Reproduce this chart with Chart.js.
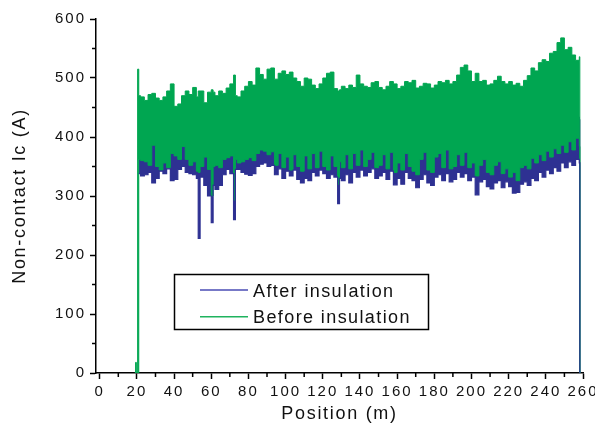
<!DOCTYPE html>
<html>
<head>
<meta charset="utf-8">
<script src="https://cdn.jsdelivr.net/npm/chart.js@4"></script>
<style>
  html, body { margin: 0; padding: 0; background: #fff; }
  canvas { display: block; }
</style>
</head>
<body>
<canvas id="chart" width="595" height="436"></canvas>
<script>
// Position along the tape (m); extra points sit on the narrow dropouts
const positions = [18.9, 19.3, 19.7, 20.4, 21,
  22, 24, 26, 28, 30, 32, 34, 36, 38, 40, 42, 44, 46, 48, 50, 52,
  53,
  54, 56, 58, 60,
  61,
  62, 64, 66, 68, 70, 72,
  73,
  74, 76, 78, 80, 82, 84, 86, 88, 90, 92, 94, 96, 98, 100, 102, 104, 106, 108, 110, 112, 114, 116, 118, 120, 122, 124, 126, 128,
  129,
  130, 132, 134, 136, 138, 140, 142, 144, 146, 148,
  150, 152, 154, 156, 158, 160, 162, 164, 166, 168,
  170, 172, 174, 176, 178, 180, 182, 184, 186, 188,
  190, 192, 194, 196, 198, 200, 202, 204, 206, 208,
  210, 212, 214, 216, 218, 220, 222, 224, 226, 228,
  230, 232, 234, 236, 238, 240, 242, 244, 246, 248,
  250, 252, 254, 256, 258,
  258.3];

// Before insulation: upper and lower edge of the noise band (A)
const beforeTop = [0, 18, 0, 515, 470,
  468, 462, 472, 474, 466, 462, 468, 478, 490, 452, 456, 470, 478, 472, 484, 468,
  478,
  478, 458, 476, 480,
  476,
  470, 478, 474, 483, 490, 505,
  470,
  468, 478, 486, 494, 488, 517, 506, 498, 515, 517, 498, 508, 512, 506, 510, 500, 494, 486, 500, 498, 488, 482, 490, 500, 508, 510, 482, 478,
  480,
  486, 482, 488, 484, 505, 490, 486, 484, 492, 494,
  484, 480, 486, 494, 490, 482, 486, 494, 492, 496,
  483, 486, 491, 490, 483, 488, 494, 492, 496, 490,
  494, 505, 518, 522, 512, 494, 508, 494, 496, 488,
  490, 496, 503, 494, 490, 494, 488, 491, 486, 496,
  504, 517, 512, 526, 531, 528, 542, 545, 560, 568,
  548, 552, 539, 530, 536,
  0];

const beforeBottom = [0, 0, 0, 0, 362,
  360, 358, 352, 386, 350, 344, 356, 348, 372, 368, 362, 384, 362, 352, 358, 342,
  340,
  350, 366, 345, 300,
  350,
  352, 348, 362, 365, 368, 293,
  362,
  356, 358, 362, 365, 360, 372, 378, 376, 370, 375, 352, 372, 348, 366, 344, 370, 350, 342, 368, 346, 372, 348, 376, 350, 344, 368, 350, 320,
  358,
  348, 370, 346, 372, 352, 378, 350, 362, 374, 348,
  352, 370, 346, 374, 340, 356, 344, 372, 350, 342,
  336, 362, 374, 344, 340, 366, 372, 348, 378, 346,
  350, 370, 352, 374, 348, 356, 334, 352, 362, 340,
  336, 352, 358, 338, 346, 332, 340, 326, 348, 352,
  346, 364, 356, 370, 360, 376, 366, 380, 372, 386,
  374, 392, 378, 398, 384,
  0];

// After insulation: lower edge (visible) and upper edge (under the green band)
const afterBottom = [null, null, null, null, 338,
  334, 336, 340, 322, 330, 342, 338, 346, 326, 328, 345, 350, 340, 338, 336, 330,
  228,
  332, 318, 300, 255,
  318,
  311, 318, 336, 345, 338, 260,
  345,
  345, 340, 337, 335, 338, 350, 354, 356, 350, 352, 336, 346, 330, 342, 334, 344, 328, 322, 330, 326, 340, 334, 344, 338, 330, 336, 332, 287,
  330,
  326, 336, 322, 340, 332, 344, 334, 340, 346, 330,
  334, 340, 328, 342, 319, 330, 320, 340, 330, 326,
  314, 328, 336, 322, 318, 332, 336, 326, 338, 324,
  328, 340, 332, 338, 326, 332, 302, 324, 328, 316,
  312, 322, 326, 314, 324, 316, 305, 306, 320, 324,
  318, 330, 326, 340, 332, 344, 338, 348, 342, 356,
  348, 358, 352, 362, 356,
  0];

const afterTop = [null, null, null, null, 400,
  400, 405, 398, 410, 402, 396, 404, 400, 408, 400, 398, 412, 404, 400, 406, 398,
  396,
  402, 404, 398, 400,
  402,
  398, 402, 406, 410, 404, 400,
  404,
  404, 408, 410, 412, 406, 415, 418, 414, 412, 416, 408, 410, 406, 404, 402, 406, 400, 398, 402, 404, 406, 400, 408, 404, 402, 406, 400, 398,
  402,
  400, 404, 398, 406, 402, 410, 404, 400, 406, 402,
  398, 404, 400, 408, 396, 394, 400, 404, 398, 392,
  390, 400, 406, 394, 392, 402, 408, 400, 410, 396,
  400, 406, 402, 408, 400, 394, 386, 392, 398, 390,
  388, 392, 396, 390, 386, 384, 380, 378, 386, 394,
  400, 402, 406, 408, 412, 410, 416, 418, 422, 426,
  424, 428, 426, 434, 430,
  0];

const xTicks = [0, 20, 40, 60, 80, 100, 120, 140, 160, 180, 200, 220, 240, 260];
const xMinorTicks = [10, 30, 50, 70, 90, 110, 130, 150, 170, 190, 210, 230, 250];
const yTicks = [0, 100, 200, 300, 400, 500, 600];
const yMinorTicks = [50, 150, 250, 350, 450, 550];

const xTitle = 'Position (m)';
const yTitle = 'Non-contact Ic (A)';
const afterLabel = 'After insulation';
const beforeLabel = 'Before insulation';

const GREEN = '#00a651';
const BLUE = '#2e3192';
const FONT = '"Liberation Sans", Arial, sans-serif';

function points(values) {
  return positions.map((x, i) => ({ x: x, y: values[i] }));
}

// Origin-like extras: letter spacing, minor ticks, axis titles, boxed legend
const originLook = {
  id: 'originLook',
  beforeLayout(chart) { chart.ctx.letterSpacing = '2px'; },
  beforeDraw(chart) { chart.ctx.letterSpacing = '2px'; },
  afterDraw(chart) {
    const ctx = chart.ctx;
    const xs = chart.scales.x;
    const ys = chart.scales.y;
    const area = chart.chartArea;

    ctx.save();
    ctx.strokeStyle = '#000';
    ctx.lineWidth = 1.5;
    ctx.beginPath();
    xMinorTicks.forEach(v => {
      const px = xs.getPixelForValue(v);
      ctx.moveTo(px, area.bottom);
      ctx.lineTo(px, area.bottom + 4);
    });
    yMinorTicks.forEach(v => {
      const py = ys.getPixelForValue(v);
      ctx.moveTo(area.left, py);
      ctx.lineTo(area.left - 4, py);
    });
    ctx.stroke();

    // axis titles
    ctx.fillStyle = '#111';
    ctx.font = '18px ' + FONT;
    ctx.letterSpacing = '1.7px';
    ctx.textAlign = 'center';
    ctx.textBaseline = 'alphabetic';
    ctx.fillText(xTitle, (area.left + area.right) / 2, 419);
    ctx.translate(25, (area.top + area.bottom) / 2);
    ctx.rotate(-Math.PI / 2);
    ctx.fillText(yTitle, 0, 0);
    ctx.restore();

    // legend box
    ctx.save();
    ctx.fillStyle = '#fff';
    ctx.fillRect(174.5, 274.5, 254, 55);
    ctx.strokeStyle = '#000';
    ctx.lineWidth = 1.5;
    ctx.strokeRect(174.5, 274.5, 254, 55);
    const items = [
      { label: afterLabel, color: '#4a4db5' },
      { label: beforeLabel, color: '#1fb35e' }
    ];
    items.forEach((item, i) => {
      const ly = 290 + i * 26.7;
      ctx.strokeStyle = item.color;
      ctx.lineWidth = 1.5;
      ctx.beginPath();
      ctx.moveTo(200, ly);
      ctx.lineTo(248, ly);
      ctx.stroke();
      ctx.fillStyle = '#111';
      ctx.font = '18px ' + FONT;
      ctx.letterSpacing = '1.4px';
      ctx.textAlign = 'left';
      ctx.textBaseline = 'alphabetic';
      ctx.fillText(item.label, 253, ly + 6.7);
    });
    ctx.restore();
  }
};

const tickFont = { family: FONT, size: 15 };

new Chart(document.getElementById('chart'), {
  type: 'line',
  data: {
    datasets: [
      {
        label: beforeLabel,
        data: points(beforeTop),
        borderColor: GREEN,
        backgroundColor: GREEN,
        borderWidth: 1,
        fill: 1,
        order: 1
      },
      {
        label: beforeLabel + ' (lower edge)',
        data: points(beforeBottom),
        borderColor: GREEN,
        borderWidth: 1,
        fill: false,
        order: 2
      },
      {
        label: afterLabel,
        data: points(afterBottom),
        borderColor: BLUE,
        borderWidth: 1.2,
        fill: false,
        order: 0
      },
      {
        label: afterLabel + ' (upper edge)',
        data: points(afterTop),
        borderColor: BLUE,
        backgroundColor: BLUE,
        borderWidth: 1,
        fill: 2,
        order: 3
      }
    ]
  },
  options: {
    responsive: false,
    animation: false,
    devicePixelRatio: 1,
    elements: {
      point: { radius: 0 },
      line: { stepped: true, tension: 0 }
    },
    layout: { padding: { left: 0, right: 12, top: 19, bottom: 0 } },
    plugins: {
      legend: { display: false },
      tooltip: { enabled: false }
    },
    scales: {
      x: {
        type: 'linear',
        min: -2,
        max: 260,
        afterBuildTicks: axis => { axis.ticks = xTicks.map(v => ({ value: v })); },
        afterFit: s => { s.height = 63; s.paddingRight = 0; s.paddingLeft = 0; },
        border: { display: true, color: '#000', width: 1.5 },
        grid: { drawOnChartArea: false, drawTicks: true, tickLength: 6, tickColor: '#000', tickWidth: 1.5 },
        ticks: { autoSkip: false, maxRotation: 0, padding: 4, color: '#111', font: tickFont }
      },
      y: {
        min: 0,
        max: 600,
        afterBuildTicks: axis => { axis.ticks = yTicks.map(v => ({ value: v })); },
        afterFit: s => { s.width = 96; },
        border: { display: true, color: '#000', width: 1.5 },
        grid: { drawOnChartArea: false, drawTicks: true, tickLength: 6, tickColor: '#000', tickWidth: 1.5 },
        ticks: { padding: 4, color: '#111', font: tickFont }
      }
    }
  },
  plugins: [originLook]
});
</script>
</body>
</html>
